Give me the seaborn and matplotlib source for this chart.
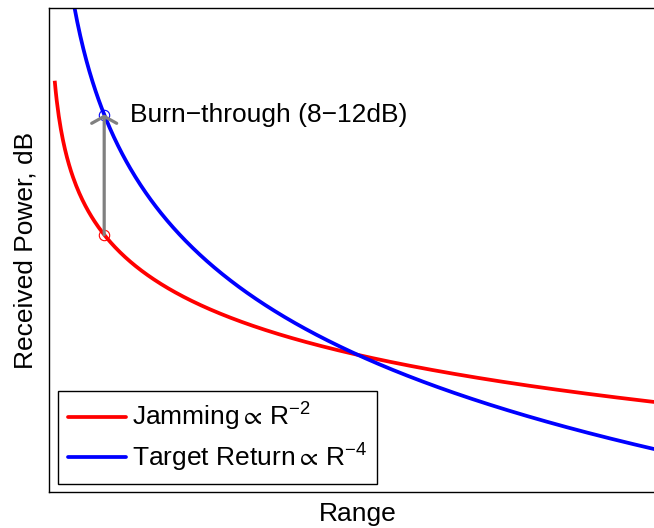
import numpy as np
import pandas as pd
import matplotlib
matplotlib.use("Agg")
import matplotlib.pyplot as plt
from matplotlib.lines import Line2D
import seaborn as sns

# Signals and their range-loss exponents (power ∝ R^-n)
signals = ["Jamming", "Target Return"]
exponents = [2, 4]
colors = ["#ff0000", "#0000ff"]
legend_labels = [r"Jamming$\propto\,$R$^{-2}$", r"Target Return$\propto\,$R$^{-4}$"]

# Range axis (arbitrary units) and the crossover point where both powers are equal
range_start, range_stop = 1.0, 100.0
crossover_range = 50.0
crossover_level_db = 0.0

# Burn-through range marked on the chart
burn_range = 9.0
burn_label = "Burn\u2212through (8\u221212dB)"

sns.set_style("white")
plt.rcParams["font.family"] = ["Liberation Sans", "DejaVu Sans"]
plt.rcParams["text.color"] = "black"
plt.rcParams["axes.labelcolor"] = "black"
plt.rcParams["mathtext.fontset"] = "custom"
plt.rcParams["mathtext.rm"] = "Liberation Sans"
plt.rcParams["mathtext.it"] = "Liberation Sans:italic"
plt.rcParams["mathtext.sf"] = "Liberation Sans"
plt.rcParams["mathtext.fallback"] = "stixsans"

FS = 19


def level_db(r, n):
    return crossover_level_db - 10.0 * n * np.log10(r / crossover_range)


ranges = np.linspace(range_start, range_stop, 600)
df = pd.concat(
    [pd.DataFrame({"range": ranges, "power": level_db(ranges, n), "signal": s})
     for s, n in zip(signals, exponents)],
    ignore_index=True,
)

fig = plt.figure(figsize=(6.54, 5.28), dpi=100)
ax = fig.add_axes([0.0742, 0.0682, 0.9457, 0.9167])

sns.lineplot(data=df, x="range", y="power", hue="signal", hue_order=signals,
             palette=colors, linewidth=2.7, legend=False, ax=ax)
for ln in ax.get_lines():
    ln.set_solid_capstyle("butt")

ax.set_xlim(0, 100)
ax.set_ylim(-17, 43)
ax.set_xticks([])
ax.set_yticks([])
for sp in ax.spines.values():
    sp.set_color("black")
    sp.set_linewidth(1.0)

ax.set_xlabel("Range", fontsize=FS, labelpad=7.5)
ax.set_ylabel("Received Power, dB", fontsize=FS, labelpad=8)

# Burn-through arrow between the two curves
j_pt = level_db(burn_range, exponents[0])
t_pt = level_db(burn_range, exponents[1])
ax.plot([burn_range], [j_pt], marker="o", ms=7.5, mfc="none", mec=colors[0], mew=0.8)
ax.plot([burn_range], [t_pt], marker="o", ms=7.5, mfc="none", mec=colors[1], mew=0.8)
ax.annotate("", xy=(burn_range, t_pt), xytext=(burn_range, j_pt),
            arrowprops=dict(arrowstyle="->,head_length=0.5,head_width=0.9",
                            color="#808080", lw=2.3, shrinkA=0, shrinkB=0,
                            mutation_scale=10))
ax.text(burn_range + 4.2, t_pt, burn_label, fontsize=FS, va="center", ha="left")

handles = [Line2D([0], [0], color=c, lw=2.7) for c in colors]
leg = ax.legend(handles, legend_labels, loc="lower left",
                bbox_to_anchor=(0.0158, 0.0165), borderaxespad=0,
                fontsize=FS, handlelength=2.2, handletextpad=0.2,
                labelspacing=0.32, borderpad=0.38, fancybox=False,
                frameon=True, framealpha=1)
leg.get_frame().set_edgecolor("black")
leg.get_frame().set_linewidth(1.0)

fig.savefig("out.png", dpi=100)
